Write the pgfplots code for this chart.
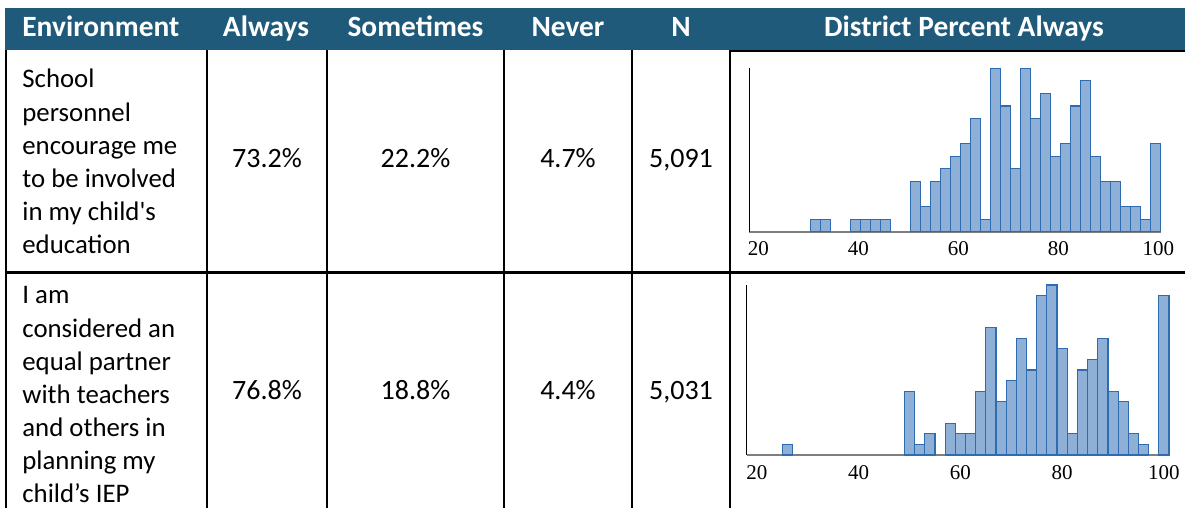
\documentclass[border=0pt]{standalone}
\usepackage{fontspec}
\setmainfont{Carlito}
\newfontfamily\ticksfont{Liberation Serif}
\usepackage{pgfplots}
\pgfplotsset{compat=1.18}
\definecolor{headblue}{HTML}{1F5A7B}
\definecolor{barfill}{HTML}{8FB0D6}
\definecolor{baredge}{HTML}{2E6BB0}
\definecolor{basegray}{HTML}{7F7F7F}

\pgfplotsset{histo/.style={
  scale only axis, ybar, bar width=2, ymin=0,
  axis x line*=bottom, axis y line*=left,
  axis line style={-},
  x axis line style={basegray, line width=1pt},
  y axis line style={black, line width=0.5pt},
  ytick=\empty, xtick={20,40,60,80,100},
  major tick length=0pt,
  xticklabel style={font=\ticksfont\fontsize{10.5}{11}\selectfont, yshift=-1.5pt},
  /pgf/number format/assume math mode=true,
  clip=false,
}}

\begin{document}
\begin{tikzpicture}
\useasboundingbox (0,0) rectangle (592.5pt,-254pt);

\begin{scope}[x=0.5pt, y=-0.5pt]
  % header band
  \fill[headblue] (5,8) rectangle (1185,50);
  \foreach \t/\x in {Always/266, Sometimes/415.5, Never/568, N/681, District Percent Always/964}
    \node[anchor=base, inner sep=0, text=white, font=\bfseries\fontsize{14.7}{16}\selectfont] at (\x,37) {\t};
  \node[anchor=base west, inner sep=0, text=white, font=\bfseries\fontsize{14.7}{16}\selectfont] at (22,37) {Environment};

  % grid lines
  \foreach \x in {6,207,327,504,632,730}
    \draw[black, line width=1.2pt] (\x,50) -- (\x,508);
  \draw[black, line width=1.2pt] (730,51) -- (1185,51);
  \draw[black, line width=1.4pt] (5,272.5) -- (1185,272.5);

  % row 1
  \foreach \l [count=\i from 0] in {School, personnel, encourage me, to be involved, in my child\textquotesingle s, education}
    \node[anchor=base west, inner sep=0, font=\fontsize{13.4}{16}\selectfont] at (22,88+33.2*\i) {\l};
  \node[anchor=base, inner sep=0, font=\fontsize{14}{16}\selectfont] at (267,168) {73.2\%};
  \node[anchor=base, inner sep=0, font=\fontsize{14}{16}\selectfont] at (415.5,168) {22.2\%};
  \node[anchor=base, inner sep=0, font=\fontsize{14}{16}\selectfont] at (568,168) {4.7\%};
  \node[anchor=base, inner sep=0, font=\fontsize{14}{16}\selectfont] at (681,168) {5,091};

  % row 2
  \foreach \l [count=\i from 0] in {I am, considered an, equal partner, with teachers, and others in, planning my, child’s IEP}
    \node[anchor=base west, inner sep=0, font=\fontsize{13.4}{16}\selectfont] at (22,304+33*\i) {\l};
  \node[anchor=base, inner sep=0, font=\fontsize{14}{16}\selectfont] at (267,400) {76.8\%};
  \node[anchor=base, inner sep=0, font=\fontsize{14}{16}\selectfont] at (415.5,400) {18.8\%};
  \node[anchor=base, inner sep=0, font=\fontsize{14}{16}\selectfont] at (568,400) {4.4\%};
  \node[anchor=base, inner sep=0, font=\fontsize{14}{16}\selectfont] at (681,400) {5,031};
\end{scope}

% histogram 1
\begin{axis}[histo, at={(374.65pt,-115.85pt)}, anchor=south west,
  width=205.75pt, height=81.7pt, xmin=18.2, xmax=100.5, ymax=13]
  \addplot[fill=barfill, draw=baredge, line width=0.6pt] coordinates {(31.5,1)(33.5,1)(39.5,1)(41.5,1)(43.5,1)(45.5,1)
    (51.5,4)(53.5,2)(55.5,4)(57.5,5)(59.5,6)(61.5,7)(63.5,9)(65.5,1)
    (67.5,13)(69.5,10)(71.5,5)(73.5,13)(75.5,9)(77.5,11)(79.5,6)(81.5,7)
    (83.5,10)(85.5,12)(87.5,6)(89.5,4)(91.5,4)(93.5,2)(95.5,2)(97.5,1)(99.5,7)};
\end{axis}

% histogram 2
\begin{axis}[histo, at={(373.35pt,-227.5pt)}, anchor=south west,
  width=211.15pt, height=85pt, xmin=18, xmax=101, ymax=16]
  \addplot[fill=barfill, draw=baredge, line width=0.6pt] coordinates {(26,1)(50,6)(52,1)(54,2)(58,3)(60,2)(62,2)(64,6)
    (66,12)(68,5)(70,7)(72,11)(74,8)(76,15)(78,16)(80,10)(82,2)(84,8)
    (86,9)(88,11)(90,6)(92,5)(94,2)(96,1)(100,15)};
\end{axis}
\end{tikzpicture}
\end{document}
